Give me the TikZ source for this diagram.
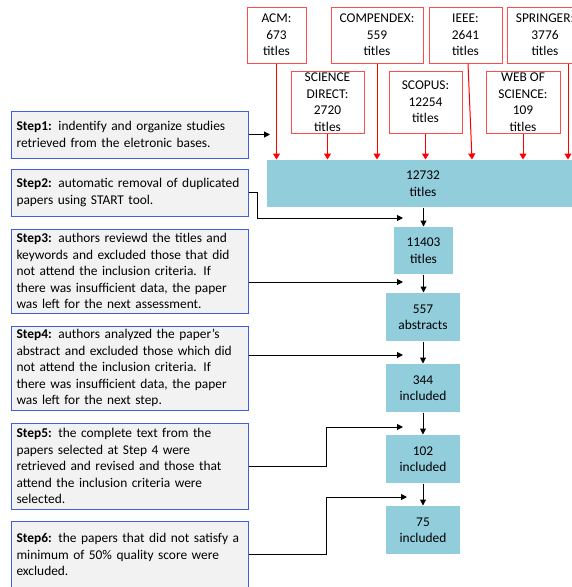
\documentclass[tikz,border=0pt]{standalone}
\usepackage{fontspec}
\setmainfont{Carlito}
\usetikzlibrary{arrows.meta}
\definecolor{srcred}{HTML}{FF4B4B}
\definecolor{stepblue}{HTML}{3F5FE0}
\definecolor{stepgray}{HTML}{F2F2F2}
\definecolor{resteal}{HTML}{92CDDC}

\begin{document}
\begin{tikzpicture}[
  x=1pt, y=-1pt,
  line width=1pt,
  base/.style={inner sep=0pt, align=center, font=\fontsize{13.4}{16.5}\selectfont},
  source/.style={base, draw=srcred, fill=white, minimum width=73, minimum height=56},
  result/.style={base, fill=resteal, minimum width=74, minimum height=48},
  stepbox/.style={base, draw=stepblue, fill=stepgray, align=left,
    text width=226pt, minimum width=237, minimum height=47},
  feed/.style={red, -{Triangle[length=6pt,width=7pt]}},
  flow/.style={black, -{Triangle[length=6pt,width=6pt]}},
]
\useasboundingbox (0,0) rectangle (571,587);
\node[source, minimum width=59] (acm) at (276.5,35) {ACM:\\673\\titles};
\node[source, minimum width=92] (compendex) at (377,35) {COMPENDEX:\\559\\titles};
\node[source] (ieee) at (465.5,35) {IEEE:\\2641\\titles};
\node[source, minimum width=76] (springer) at (545,35) {SPRINGER:\\3776\\titles};
\node[source, minimum height=62] (scidirect) at (327.5,102) {SCIENCE\\DIRECT:\\2720\\titles};
\node[source, minimum height=62] (scopus) at (425.5,102) {SCOPUS:\\12254\\titles};
\node[source, minimum height=62, minimum width=74] (wos) at (523,102) {WEB OF\\SCIENCE:\\109\\titles};

\node[result, minimum width=312, minimum height=47] (total) at (423,183.5) {12732\\titles};
\node[result, minimum width=59, minimum height=47] (noduplic) at (423.5,250.5) {11403\\titles};
\node[result] (abstracts) at (423,317) {557\\abstracts};
\node[result] (included) at (423,388) {344\\included};
\node[result] (fulltext) at (423,459) {102\\included};
\node[result] (quality) at (423,530) {75\\included};

\node[stepbox] (step1) at (129.5,134.5) {\textbf{Step1:} indentify and organize studies\\retrieved from the eletronic bases.};
\node[stepbox] (step2) at (129.5,192.5) {\textbf{Step2:} automatic removal of duplicated\\papers using START tool.};
\node[stepbox, minimum height=84] (step3) at (129.5,271) {\textbf{Step3:} authors reviewd the titles and\\keywords and excluded those that did\\not attend the inclusion criteria. If\\there was insufficient data, the paper\\was left for the next assessment.};
\node[stepbox, minimum height=84] (step4) at (129.5,368) {\textbf{Step4:} authors analyzed the paper’s\\abstract and excluded those which did\\not attend the inclusion criteria. If\\there was insufficient data, the paper\\was left for the next step.};
\node[stepbox, minimum height=86] (step5) at (129.5,466) {\textbf{Step5:} the complete text from the\\papers selected at Step 4 were\\retrieved and revised and those that\\attend the inclusion criteria were\\selected.};
\node[stepbox, minimum height=67] (step6) at (129.5,554.5) {\textbf{Step6:} the papers that did not satisfy a\\minimum of 50\% quality score were\\excluded.};

\coordinate (j1) at (270,134.5);
\coordinate (j2) at (403,218);
\coordinate (j3) at (403,282);
\coordinate (j4) at (403,355);
\coordinate (j5) at (403,427);
\coordinate (j6) at (407,497);

\draw[feed] (acm.south) -- (acm.south |- total.north);
\draw[feed] (compendex.south) -- (compendex.south |- total.north);
\draw[feed] ([xshift=2.5pt]ieee.south) -- ([xshift=6.5pt]ieee.south |- total.north);
\draw[feed] ([xshift=23pt]springer.south) -- ([xshift=23pt]springer.south |- total.north);
\draw[feed] (scidirect.south) -- (scidirect.south |- total.north);
\draw[feed] (scopus.south) -- (scopus.south |- total.north);
\draw[feed] (wos.south) -- (wos.south |- total.north);

\draw[flow] (total.south -| noduplic) -- (noduplic.north);
\draw[flow] (noduplic.south) -- (noduplic.south |- abstracts.north);
\draw[flow] (abstracts.south) -- (included.north);
\draw[flow] (included.south) -- (fulltext.north);
\draw[flow] (fulltext.south) -- (quality.north);

\draw[flow] (step1.east) -- (j1);
\draw[flow] (step2.east) -- ++(9,0) |- (j2);
\draw[flow] (step3.east |- j3) -- (j3);
\draw[flow] (step4.east |- j4) -- (j4);
\draw[flow] (step5.east) -- ++(78,0) |- (j5);
\draw[flow] (step6.east) -- ++(78,0) |- (j6);
\end{tikzpicture}
\end{document}
